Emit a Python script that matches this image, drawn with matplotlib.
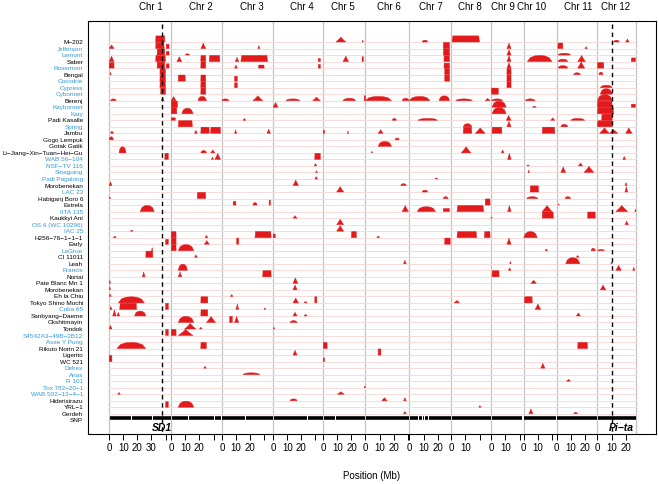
import numpy as np
import matplotlib
matplotlib.use('Agg')
import matplotlib.pyplot as plt
from matplotlib.transforms import blended_transform_factory

plt.rcParams['font.family'] = ['Liberation Sans', 'DejaVu Sans']

# ── 数据 ──

CHR_LEN = [44.0, 35.9, 36.4, 35.5, 29.9, 31.2, 29.7, 28.4, 23.0, 23.2, 29.0, 27.5]
CHR_NAMES = [f"Chr {i}" for i in range(1, 13)]
CHR_LABEL_MB = [29.4, 21.0, 21.5, 20.0, 14.0, 16.7, 15.0, 13.5, 8.5, 5.4, 15.2, 12.7]
TICK_LABELS = [[0, 10, 20, 30], [0, 10, 20], [0, 10, 20], [0, 10, 20], [0, 10, 20],
               [0, 10, 20], [0, 10, 20], [0, 10], [0, 10], [0, 10], [0, 10, 20], [0, 10, 20]]

ACCESSIONS = [
    "M-202", "Jefferson", "Lemont", "Saber", "Rosemont", "Bengal", "Cocodrie",
    "Cypress", "Cybonnet", "Berenj", "Kaybonnet", "Katy", "Padi Kasalle", "Spring",
    "Jambu", "Gogo Lempuk", "Gotak Gatik", "Li-Jiang-Xin-Tuan-Hei-Gu", "WAB 56-104",
    "NSF-TV 116", "Sinaguing", "Padi Pagalong", "Morobenekan", "LAC 23",
    "Habiganj Boro 6", "Estrela", "IITA 135", "Kaukkyi Ani", "OS 6 (WC 10296)",
    "IAC 25", "H256-76-1-1-1", "Early", "LaGrue", "CI 11011", "Leah", "Francis",
    "Nortai", "Pate Blanc Mn 1", "Morobenekan", "Eh la Chiu", "Tokyo Shino Mochi",
    "Cuba 65", "Sanbyang-Daeme", "Okshitmayin", "Tondok", "S4542A3-49B-2B12",
    "Asse Y Pung", "Rikuto Norin 21", "Ligerito", "WC 521", "Delrex", "Arias",
    "R 101", "Tox 782-20-1", "WAB 502-13-4-1", "Hiderisirazu", "YRL-1", "Gerdeh", "SNP",
]
BLUE_NAMES = {
    "Jefferson", "Lemont", "Rosemont", "Cocodrie", "Cypress", "Cybonnet", "Kaybonnet",
    "Katy", "Spring", "WAB 56-104", "NSF-TV 116", "Sinaguing", "Padi Pagalong",
    "LAC 23", "IITA 135", "OS 6 (WC 10296)", "IAC 25", "LaGrue", "Francis", "Cuba 65",
    "S4542A3-49B-2B12", "Asse Y Pung", "Delrex", "Arias", "R 101", "Tox 782-20-1",
    "WAB 502-13-4-1",
}

# (行, 染色体, 起点Mb, 终点Mb, 相对高度, 形状)  b=块 h=丘 p=峰
BLOBS = [
    (0, 1, 33, 39.5, 1, 'b'), (0, 5, 9, 16, 0.8, 'p'), (0, 5, 27.5, 28.5, 0.3, 'p'),
    (0, 7, 9, 13, 0.3, 'h'), (0, 8, 0.5, 20, 1, 'b'), (0, 12, 11.5, 15.5, 0.3, 'h'),
    (0, 12, 20, 22.5, 0.5, 'p'),
    (1, 1, 0, 3.5, 0.6, 'p'), (1, 1, 33, 39, 1, 'b'), (1, 1, 40.5, 42.5, 0.7, 'b'),
    (1, 2, 21, 24.5, 0.9, 'p'), (1, 3, 25.5, 27, 0.5, 'p'), (1, 7, 24, 28.5, 1, 'b'),
    (1, 9, 11, 14, 0.9, 'p'), (1, 11, 1, 4.5, 0.9, 'b'), (1, 11, 20, 22, 0.3, 'p'),
    (2, 1, 34, 39.5, 1, 'b'), (2, 1, 40.5, 42.5, 0.6, 'b'), (2, 2, 10, 13, 0.2, 'h'),
    (2, 7, 24, 28.5, 1, 'b'), (2, 9, 11, 14, 0.9, 'p'), (2, 11, 1, 10, 0.3, 'h'),
    (3, 1, 0, 3.5, 0.9, 'p'), (3, 1, 33, 40, 1, 'b'), (3, 2, 4, 7.5, 0.8, 'p'),
    (3, 2, 21, 24.5, 1, 'b'), (3, 2, 27, 34.5, 1, 'b'), (3, 3, 9.5, 12, 0.7, 'p'),
    (3, 3, 13.5, 32.5, 1, 'b'), (3, 4, 32, 33.5, 0.5, 'b'), (3, 5, 14, 18, 0.9, 'p'),
    (3, 5, 27.5, 28.5, 0.8, 'b'), (3, 7, 24.5, 28.5, 1, 'b'), (3, 9, 11, 14, 1, 'p'),
    (3, 10, 2.5, 20, 1, 'h'), (3, 11, 1, 8, 0.4, 'h'), (3, 11, 15, 20.5, 1, 'p'),
    (3, 12, 24, 27, 0.6, 'b'),
    (4, 1, 0, 3.5, 0.9, 'b'), (4, 1, 34, 39.5, 1, 'b'), (4, 1, 40.5, 42.5, 0.7, 'b'),
    (4, 2, 21, 24.5, 1, 'b'), (4, 3, 9, 11, 0.5, 'p'), (4, 3, 26, 30, 0.5, 'b'),
    (4, 4, 32, 33.5, 0.6, 'b'), (4, 7, 24.5, 28.5, 0.8, 'b'), (4, 9, 11, 14, 0.9, 'p'),
    (4, 11, 1, 8, 0.4, 'h'), (4, 11, 15, 20, 1, 'p'), (4, 12, 0, 4.5, 0.9, 'b'),
    (5, 1, 0.5, 1.5, 0.4, 'p'), (5, 1, 36, 40, 1, 'b'), (5, 7, 25, 28.5, 1, 'b'),
    (5, 9, 11, 14, 1, 'b'), (5, 11, 12, 17, 0.3, 'h'), (5, 12, 1, 4, 0.4, 'h'),
    (6, 1, 36, 40, 1, 'b'), (6, 2, 5, 10, 1, 'b'), (6, 2, 21, 24.5, 1, 'b'),
    (6, 3, 9, 11, 0.8, 'b'), (6, 7, 25, 28.5, 1, 'b'), (6, 9, 11, 14, 1, 'b'),
    (7, 1, 36, 40, 1, 'b'), (7, 2, 21, 24.5, 1, 'b'), (7, 3, 9, 11, 0.8, 'b'),
    (7, 9, 11, 14, 1, 'b'), (7, 12, 2, 10.5, 0.4, 'h'),
    (8, 1, 36.5, 40, 1, 'b'), (8, 2, 21, 24.5, 1, 'b'), (8, 9, 0, 5, 1, 'b'),
    (8, 12, 2, 10.5, 0.9, 'h'),
    (9, 1, 1, 5, 0.3, 'h'), (9, 1, 37, 39, 0.6, 'p'), (9, 2, 0, 3.5, 0.7, 'p'),
    (9, 2, 19, 25, 0.7, 'h'), (9, 3, 0, 5, 0.3, 'h'), (9, 3, 22, 29, 0.8, 'p'),
    (9, 4, 9, 19, 0.3, 'h'), (9, 4, 28, 33.5, 0.6, 'p'), (9, 5, 14, 23, 0.4, 'h'),
    (9, 5, 29, 30, 0.8, 'b'), (9, 6, 0, 18.5, 0.7, 'h'), (9, 6, 26, 31, 0.4, 'h'),
    (9, 7, 0, 14.5, 0.7, 'h'), (9, 7, 21, 28.5, 0.8, 'h'), (9, 8, 3, 15, 0.3, 'h'),
    (9, 8, 24, 27.5, 0.4, 'p'), (9, 9, 0, 8, 0.3, 'h'), (9, 10, 1, 8, 0.3, 'h'),
    (9, 12, 0, 10.5, 1, 'h'),
    (10, 2, 0, 4.5, 1, 'b'), (10, 4, 0, 3.5, 0.8, 'p'), (10, 9, 0.5, 10.5, 1, 'h'),
    (10, 10, 6, 9, 0.2, 'p'), (10, 12, 0, 10.5, 1, 'b'), (10, 12, 24, 27, 0.5, 'b'),
    (11, 2, 0, 4, 1, 'b'), (11, 2, 7.5, 15.5, 0.9, 'h'), (11, 9, 0.5, 10.5, 1, 'h'),
    (11, 12, 0, 11.5, 1, 'b'),
    (12, 2, 0, 3, 0.4, 'b'), (12, 3, 15, 17, 0.3, 'p'), (12, 6, 19, 22, 0.3, 'h'),
    (12, 7, 6, 20, 0.3, 'h'), (12, 9, 10.5, 14, 0.8, 'p'), (12, 10, 19, 22, 0.4, 'p'),
    (12, 11, 10, 20, 0.3, 'h'), (12, 12, 3, 10.5, 1, 'b'),
    (13, 2, 5, 15, 1, 'b'), (13, 8, 8.5, 14.5, 0.5, 'h'), (13, 9, 11, 14, 0.9, 'p'),
    (13, 11, 3, 8, 0.4, 'h'), (13, 12, 0, 10.5, 1, 'b'),
    (14, 1, 1, 3, 0.3, 'h'), (14, 2, 16.5, 18.5, 0.5, 'p'), (14, 2, 21, 27, 1, 'b'),
    (14, 2, 28, 35, 1, 'b'), (14, 3, 9, 10.5, 0.6, 'p'), (14, 3, 32, 34.5, 0.7, 'p'),
    (14, 5, 0, 1, 0.5, 'b'), (14, 5, 17, 18, 0.4, 'p'), (14, 6, 9, 12.5, 0.6, 'p'),
    (14, 8, 8.5, 14.5, 1, 'b'), (14, 8, 17, 24, 0.9, 'p'), (14, 9, 0.5, 7.5, 1, 'b'),
    (14, 10, 13, 22, 1, 'b'), (14, 12, 1.5, 8.5, 0.9, 'p'), (14, 12, 8.5, 14.5, 0.6, 'p'),
    (14, 12, 20, 24.5, 0.9, 'p'),
    (15, 1, 0, 3, 0.5, 'h'), (15, 6, 21, 24, 0.3, 'h'),
    (16, 6, 9, 18.5, 0.8, 'h'),
    (17, 1, 7, 12, 1, 'h'), (17, 2, 21, 25, 0.4, 'h'), (17, 2, 28, 31, 0.5, 'p'),
    (17, 6, 4, 5, 0.3, 'p'), (17, 8, 7, 14, 1, 'p'), (17, 9, 7, 9, 0.5, 'p'),
    (18, 1, 39.5, 42, 1, 'b'), (18, 2, 28.5, 30, 0.4, 'p'), (18, 2, 31, 35, 1, 'p'),
    (18, 4, 29.5, 33.5, 1, 'b'), (18, 9, 11.5, 14, 1, 'p'), (18, 12, 18, 20, 0.5, 'p'),
    (19, 4, 29, 31, 0.4, 'p'), (19, 11, 15.5, 18.5, 0.5, 'p'), (19, 10, 2, 4, 0.2, 'p'),
    (20, 4, 30, 31.5, 0.3, 'p'), (20, 10, 3, 4, 0.4, 'p'), (20, 11, 3, 6.5, 0.9, 'p'),
    (20, 11, 19.5, 26.5, 1, 'p'),
    (21, 4, 29.5, 31.5, 0.4, 'p'), (21, 7, 18, 20, 0.2, 'p'),
    (22, 1, 0, 2, 0.6, 'p'), (22, 4, 14, 18, 0.9, 'p'), (22, 6, 25, 29, 0.3, 'h'),
    (22, 12, 19.5, 21, 0.5, 'p'),
    (23, 5, 9.5, 14.5, 0.9, 'p'), (23, 7, 9, 13, 0.3, 'h'), (23, 10, 4.5, 10.5, 1, 'b'),
    (23, 12, 19.5, 21.5, 0.9, 'p'),
    (24, 1, 0, 1, 0.3, 'p'), (24, 2, 18.5, 24.5, 1, 'b'), (24, 7, 24, 27.5, 0.3, 'h'),
    (24, 10, 2, 10, 0.3, 'h'), (24, 11, 6, 10, 0.3, 'h'),
    (25, 3, 8, 10, 0.6, 'b'), (25, 3, 22, 25, 0.4, 'h'), (25, 3, 33.5, 34.5, 0.8, 'b'),
    (25, 8, 24, 27.5, 1, 'b'), (25, 11, 1, 2, 0.2, 'p'),
    (26, 1, 22, 32, 1, 'h'), (26, 6, 26, 30.5, 1, 'p'), (26, 7, 5.5, 18.5, 0.8, 'h'),
    (26, 7, 24, 28.5, 0.5, 'b'), (26, 8, 4, 23, 1, 'b'), (26, 9, 11.5, 14, 1, 'p'),
    (26, 10, 13, 20, 1, 'p'), (26, 12, 13, 21.5, 1, 'p'), (26, 12, 26.5, 27.5, 0.4, 'p'),
    (27, 4, 14, 17, 0.4, 'p'), (27, 8, 28, 29, 0.2, 'p'), (27, 10, 13, 21, 1, 'b'),
    (27, 11, 22, 27.5, 1, 'b'),
    (28, 5, 9.5, 14.5, 0.9, 'p'), (28, 12, 19.5, 22, 0.6, 'p'),
    (29, 5, 9.5, 14.5, 0.9, 'p'), (29, 1, 15, 17, 0.2, 'p'),
    (30, 1, 3, 5, 0.3, 'p'), (30, 2, 0, 3.5, 1, 'b'), (30, 2, 24, 26, 0.4, 'p'),
    (30, 3, 23.5, 35, 1, 'b'), (30, 4, 0, 1.5, 0.6, 'b'), (30, 5, 20, 23.5, 1, 'b'),
    (30, 8, 4, 18, 1, 'b'), (30, 8, 23.5, 27.5, 1, 'b'), (30, 10, 0, 9.5, 1, 'h'),
    (30, 6, 8, 10, 0.3, 'p'),
    (31, 1, 40, 42, 0.8, 'b'), (31, 2, 0, 3.5, 1, 'b'), (31, 2, 23.5, 27, 0.6, 'p'),
    (31, 3, 10.5, 12, 1, 'b'), (31, 7, 25, 29, 1, 'b'), (31, 9, 11, 14, 1, 'p'),
    (32, 1, 30, 31, 0.5, 'p'), (32, 2, 0, 3.5, 1, 'b'), (32, 2, 5, 16, 1, 'h'),
    (32, 10, 15, 17, 0.3, 'p'), (32, 11, 24.5, 27.5, 0.4, 'h'), (32, 12, 0, 5, 0.2, 'h'),
    (33, 1, 26, 31, 1, 'b'), (33, 2, 16.5, 18.5, 0.4, 'p'), (33, 11, 14, 16, 0.3, 'p'),
    (34, 6, 27, 29, 0.6, 'p'), (34, 11, 6.5, 16.5, 1, 'h'), (34, 9, 13, 14, 0.4, 'p'),
    (34, 12, 9.5, 10.5, 0.3, 'p'),
    (35, 2, 5, 11.5, 1, 'h'), (35, 9, 12, 14, 0.4, 'p'), (35, 12, 13, 17, 0.8, 'p'),
    (35, 12, 25, 26.5, 0.5, 'p'),
    (36, 1, 23.5, 25.5, 0.8, 'p'), (36, 2, 5, 7.5, 0.8, 'p'), (36, 3, 29, 35, 1, 'b'),
    (36, 9, 0.5, 5.5, 1, 'b'),
    (37, 1, 0, 1, 0.5, 'p'), (37, 4, 14, 17.5, 0.9, 'p'), (37, 10, 5, 9, 0.5, 'p'),
    (38, 1, 0, 1, 0.5, 'p'), (38, 4, 14, 17, 0.8, 'p'), (38, 12, 2, 6, 0.8, 'p'),
    (39, 1, 0, 1.5, 0.4, 'p'), (39, 3, 6, 8, 0.3, 'p'),
    (40, 1, 6.5, 25, 1, 'h'), (40, 2, 21, 26, 1, 'b'), (40, 4, 14, 18, 0.8, 'p'),
    (40, 4, 22, 24, 0.2, 'h'), (40, 4, 29.5, 31, 1, 'b'), (40, 10, 0.5, 6, 1, 'b'),
    (40, 8, 2, 6, 0.4, 'p'),
    (41, 1, 0.5, 2, 0.5, 'p'), (41, 1, 7.5, 19.5, 1, 'b'), (41, 1, 40, 42, 1, 'b'),
    (41, 3, 10, 12, 0.9, 'p'), (41, 3, 30, 31, 0.3, 'p'), (41, 10, 8, 12, 0.9, 'p'),
    (42, 1, 2.5, 5, 1, 'p'), (42, 1, 5.5, 7.5, 0.6, 'p'), (42, 1, 18, 26, 0.8, 'h'),
    (42, 2, 21, 26, 1, 'b'), (42, 4, 14, 17, 0.6, 'p'), (42, 4, 22, 24, 0.2, 'h'),
    (42, 11, 14, 17, 0.5, 'p'),
    (43, 2, 5, 16, 1, 'h'), (43, 2, 25, 31.5, 1, 'p'), (43, 3, 5.5, 7.5, 1, 'b'),
    (43, 3, 9, 12, 1, 'p'), (43, 4, 12, 17, 0.3, 'h'),
    (44, 1, 0, 2, 0.6, 'p'), (44, 2, 9.5, 17.5, 0.9, 'p'), (44, 2, 20, 22, 0.3, 'p'),
    (44, 4, 0, 1, 0.3, 'p'),
    (45, 1, 40, 42, 1, 'b'), (45, 2, 0, 3.5, 1, 'b'), (45, 2, 5, 15.5, 1, 'p'),
    (47, 1, 5.5, 26, 1, 'h'), (47, 2, 21, 25, 1, 'b'), (47, 5, 0, 2.8, 1, 'b'),
    (47, 11, 15, 22, 1, 'b'),
    (48, 4, 14, 17, 0.8, 'p'), (48, 6, 9, 11, 1, 'b'),
    (49, 1, 0, 2, 1, 'b'), (49, 5, 0, 1, 0.6, 'b'),
    (50, 2, 23, 25, 0.3, 'p'), (50, 10, 12, 15, 0.8, 'p'),
    (51, 3, 15, 27, 0.3, 'h'),
    (52, 11, 7, 10, 0.3, 'p'),
    (53, 5, 29, 30, 0.3, 'p'),
    (54, 1, 6, 8, 0.3, 'p'), (54, 5, 10, 15, 0.4, 'p'),
    (55, 4, 12, 17, 0.3, 'h'), (55, 6, 11.5, 15.5, 0.5, 'p'), (55, 6, 27, 29, 0.5, 'p'),
    (56, 1, 40, 42, 0.9, 'b'), (56, 2, 5, 16, 1, 'h'), (56, 8, 19.5, 21, 0.3, 'p'),
    (57, 6, 27, 29, 0.4, 'p'), (57, 10, 3.5, 6.5, 0.8, 'p'), (57, 11, 12, 15, 0.3, 'p'),
]

# SNP 轨道中的空隙 (染色体, Mb)
SNP_GAPS = [(1, 16), (1, 31), (2, 12), (2, 31), (3, 17), (4, 24), (5, 9),
            (7, 6.5), (7, 9), (7, 11), (7, 13.5), (9, 22)]

SD1_MB = (1, 37.6)
PITA_MB = (12, 10.2)

RED = '#e31a1c'
BLUE = '#3399d6'

# ── 坐标换算 ──
offsets = np.concatenate([[0], np.cumsum(CHR_LEN)])


def gx(chrom, mb):
    return offsets[chrom - 1] + mb


def blob_shape(x0, x1, h, kind):
    w = x1 - x0
    mid = (x0 + x1) / 2
    if kind == 'b':
        xs = [x0, x0 + 0.03 * w, x1 - 0.03 * w, x1]
        hs = [0, h, h, 0]
    elif kind == 'p':
        xs = [x0, x0 + 0.3 * w, mid, x1 - 0.3 * w, x1]
        hs = [0, 0.55 * h, h, 0.55 * h, 0]
    else:
        xs = [x0, x0 + 0.12 * w, x0 + 0.3 * w, mid, x1 - 0.3 * w, x1 - 0.12 * w, x1]
        hs = [0, 0.65 * h, 0.93 * h, h, 0.93 * h, 0.65 * h, 0]
    return xs, hs


# ── 绘图 ──
fig = plt.figure(figsize=(6.59, 4.85), dpi=100)
ax = fig.add_axes([0.1335, 0.1031, 0.8619, 0.8522])

n_rows = len(ACCESSIONS)
x_left, x_right = -15.0, 387.7
ax.set_xlim(x_left, x_right)
ax.set_ylim(60.1, -3.27)

# 染色体分界线
for off in offsets:
    ax.axvline(off, color='#c4c4c4', lw=0.9, zorder=1)

# 每行底线
for i in range(n_rows - 1):
    ax.plot([0, offsets[-1]], [i, i], color='#f8dada', lw=0.7, zorder=2)

ROW_H = 0.94
for row, chrom, s, e, h, kind in BLOBS:
    xs, hs = blob_shape(gx(chrom, s), gx(chrom, e), h, kind)
    ax.fill(xs, [row - v * ROW_H for v in hs], color=RED, lw=0.3,
            edgecolor=RED, zorder=3)

# SNP 轨道
snp_row = n_rows - 1
gap_x = sorted(gx(c, m) for c, m in SNP_GAPS)
bounds = sorted(set(list(offsets) + gap_x))
for a, b in zip(bounds[:-1], bounds[1:]):
    ax.plot([a + 0.35, b - 0.35], [snp_row - 0.3, snp_row - 0.3], color='black',
            lw=2.6, solid_capstyle='butt', zorder=3)

# 基因位置 (SD1, Pi-ta)
for (c, m) in (SD1_MB, PITA_MB):
    ax.plot([gx(c, m)] * 2, [-2.8, 60.1], color='black', lw=1.0,
            ls=(0, (3.2, 2.6)), zorder=4)
ax.text(gx(*SD1_MB), 59.0, 'SD1', ha='center', va='center', fontsize=7.5,
        fontweight='bold', fontstyle='italic', zorder=5)
ax.text(gx(*PITA_MB) - 2.3, 59.0, 'Pi\u2212ta', ha='left', va='center', fontsize=7.5,
        fontweight='bold', fontstyle='italic', zorder=5)

# 行标签
ax.set_yticks([i - 0.15 for i in range(n_rows)])
ax.set_yticklabels([n.replace('-', '\u2212') for n in ACCESSIONS], fontsize=4.6)
for lab, name in zip(ax.get_yticklabels(), ACCESSIONS):
    lab.set_color(BLUE if name in BLUE_NAMES else 'black')
ax.tick_params(axis='y', length=0, pad=3.5)

# x 轴刻度
ticks, labels = [], []
for k, L in enumerate(CHR_LEN):
    for t in range(0, int(L) + 1, 10):
        ticks.append(offsets[k] + t)
        labels.append(str(t) if t in TICK_LABELS[k] else '')
ax.set_xticks(ticks)
ax.set_xticklabels(labels, fontsize=7)
ax.tick_params(axis='x', length=4, width=0.7, pad=2)
ax.set_xlabel('Position (Mb)', fontsize=7, labelpad=13)

# 染色体名
trans = blended_transform_factory(ax.transData, ax.transAxes)
for k, name in enumerate(CHR_NAMES):
    ax.text(offsets[k] + CHR_LABEL_MB[k], 1.036, name, transform=trans,
            ha='center', va='center', fontsize=7)

for sp in ax.spines.values():
    sp.set_linewidth(0.8)

fig.savefig('out.png', dpi=100)
